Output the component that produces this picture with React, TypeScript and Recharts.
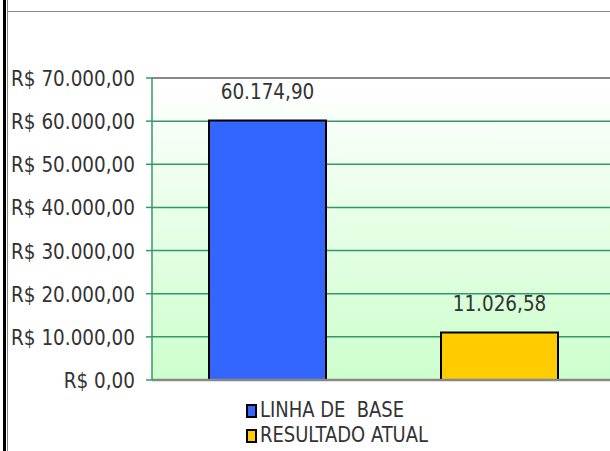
import React from 'react';
import { BarChart, Bar, XAxis, YAxis, CartesianGrid, Legend, LabelList, ReferenceLine } from 'recharts';

const CATEGORIES = [''];
const SERIES_NAMES = ['LINHA DE  BASE', 'RESULTADO ATUAL'];
const BASE_VALUES = [60174.9];
const ATUAL_VALUES = [11026.58];
const Y_TICKS = [0, 10000, 20000, 30000, 40000, 50000, 60000, 70000];

const COLORS = ['#3366ff', '#ffcc00'];
const FONT = '"DejaVu Sans Condensed", "DejaVu Sans", sans-serif';
const SQUEEZE = 0.93; // original text is narrow and tall

const data = CATEGORIES.map((c, i) => ({ name: c, base: BASE_VALUES[i], atual: ATUAL_VALUES[i] }));

// 60174.9 -> "60.174,90"
const brNumber = (v: number) => {
  const [int, dec] = Number(v).toFixed(2).split('.');
  return int.replace(/\B(?=(\d{3})+(?!\d))/g, '.') + ',' + dec;
};

const YTick = (props: any) => {
  const { x, y, payload } = props;
  return (
    <text
      x={0}
      y={0}
      dy="0.36em"
      textAnchor="end"
      transform={`translate(${x},${y}) scale(${SQUEEZE},1)`}
      fill="#333"
      fontSize={22}
      fontFamily={FONT}
    >
      {'R$ ' + brNumber(payload.value)}
    </text>
  );
};

const TopLabel = (props: any) => {
  const { x, y, width, value } = props;
  return (
    <text
      x={0}
      y={0}
      textAnchor="middle"
      transform={`translate(${x + width / 2},${y - 21}) scale(${SQUEEZE},1)`}
      fill="#333"
      fontSize={22}
      fontFamily={FONT}
    >
      {brNumber(value)}
    </text>
  );
};

const LegendBox = (props: any) => {
  const items = props.payload || [];
  return (
    <div style={{ fontFamily: FONT, fontSize: 21, color: '#333', lineHeight: '25px' }}>
      {items.map((it: any) => (
        <div key={it.value} style={{ display: 'flex', alignItems: 'center', whiteSpace: 'pre' }}>
          <span style={{ display: 'inline-block', width: 7, height: 10, background: it.color, border: '2px solid #000', marginRight: 3 }} />
          <span style={{ display: 'inline-block', transform: 'scaleX(0.95)', transformOrigin: 'left center' }}>{it.value}</span>
        </div>
      ))}
    </div>
  );
};

const App: React.FC = () => {
  return (
    <div style={{ position: 'absolute', left: 0, top: 0, width: 610, height: 451, overflow: 'hidden', background: '#fff' }}>
      {/* outer frame of the original sheet */}
      <div style={{ position: 'absolute', left: 3, top: 0, width: 3, height: 451, background: '#000' }} />
      <div style={{ position: 'absolute', left: 7, top: 0, width: 1, height: 451, background: '#888' }} />
      <div style={{ position: 'absolute', left: 7, top: 11, width: 603, height: 1, background: '#888' }} />

      <div style={{ position: 'absolute', left: 0, top: 0 }}>
        <BarChart
          width={640}
          height={451}
          data={data}
          margin={{ top: 78, right: 25, bottom: 71, left: 0 }}
          barSize={117}
          barGap={115}
          style={{ fontFamily: FONT }}
        >
          <defs>
            <linearGradient id="plotBg" x1="0" y1="0" x2="0" y2="1">
              <stop offset="0%" stopColor="#ffffff" />
              <stop offset="100%" stopColor="#ccffcc" />
            </linearGradient>
          </defs>
          <CartesianGrid vertical={false} stroke="#339966" strokeWidth={1.5} fill="url(#plotBg)" />
          <XAxis dataKey="name" height={0} tick={false} tickLine={false} axisLine={false} />
          <YAxis
            width={152}
            domain={[0, 70000]}
            ticks={Y_TICKS}
            interval={0}
            tickSize={6}
            tickMargin={11}
            tick={<YTick />}
            stroke="#339966"
            strokeWidth={1.5}
          />
          <ReferenceLine y={70000} stroke="#888" strokeWidth={2} />
          <ReferenceLine y={0} stroke="#888" strokeWidth={2.5} />
          <Legend
            layout="vertical"
            align="center"
            verticalAlign="middle"
            content={<LegendBox />}
            wrapperStyle={{ position: 'absolute', left: 246, top: 398, width: 'auto' }}
          />
          <Bar dataKey="base" name={SERIES_NAMES[0]} fill={COLORS[0]} stroke="#000" strokeWidth={2} isAnimationActive={false}>
            <LabelList dataKey="base" content={<TopLabel />} />
          </Bar>
          <Bar dataKey="atual" name={SERIES_NAMES[1]} fill={COLORS[1]} stroke="#000" strokeWidth={2} isAnimationActive={false}>
            <LabelList dataKey="atual" content={<TopLabel />} />
          </Bar>
        </BarChart>
      </div>
    </div>
  );
};

export default App;
